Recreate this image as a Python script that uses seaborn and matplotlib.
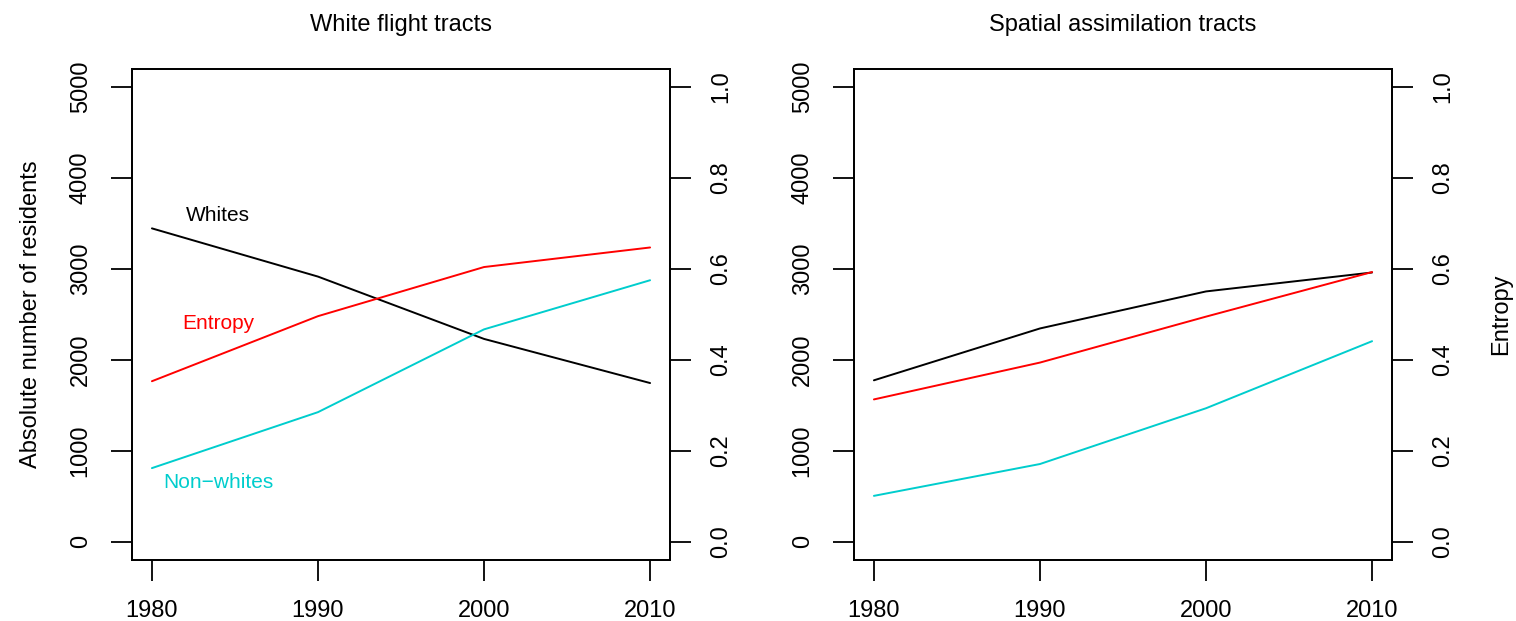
import pandas as pd
import numpy as np
import matplotlib
matplotlib.use("Agg")
import matplotlib.pyplot as plt
import seaborn as sns

# data
years = [1980, 1990, 2000, 2010]
panels = ["White flight tracts", "Spatial assimilation tracts"]

whites_wf = [3445, 2915, 2230, 1745]
nonwhites_wf = [810, 1425, 2335, 2875]
entropy_wf = [0.353, 0.496, 0.604, 0.647]

whites_sa = [1775, 2345, 2752, 2960]
nonwhites_sa = [505, 855, 1468, 2205]
entropy_sa = [0.313, 0.394, 0.495, 0.593]

label_names = ["Whites", "Entropy", "Non\u2212whites"]
label_x = 1984
label_y = [3590, 2400, 650]  # in residents units

black, red, cyan = "black", "#FF0000", "#00CDCD"

sns.set_theme(style="white")
plt.rcParams["font.family"] = ["Liberation Sans", "DejaVu Sans"]
plt.rcParams["text.color"] = "black"
plt.rcParams["axes.labelcolor"] = "black"

fig = plt.figure(figsize=(15.16, 6.21), dpi=100)
W, H = 1516, 621
boxes = [(132, 670), (854, 1392)]
top, bottom = 68.7, 560

data = [
    (whites_wf, nonwhites_wf, entropy_wf),
    (whites_sa, nonwhites_sa, entropy_sa),
]


def style_axis(ax):
    for s in ax.spines.values():
        s.set_linewidth(1.3)
        s.set_color("black")
    ax.tick_params(direction="out", length=15, width=1.3, color="black",
                   labelsize=17, pad=14, labelcolor="black")


for i, (title, (wh, nw, en)) in enumerate(zip(panels, data)):
    x0, x1 = boxes[i]
    ax = fig.add_axes([x0 / W, 1 - bottom / H, (x1 - x0) / W, (bottom - top) / H])
    df = pd.DataFrame({"year": years, "whites": wh, "nonwhites": nw, "entropy": en})
    sns.lineplot(data=df, x="year", y="whites", ax=ax, color=black, lw=1.4)
    sns.lineplot(data=df, x="year", y="nonwhites", ax=ax, color=cyan, lw=1.4)
    ax.set_xlim(1978.8, 2011.2)
    ax.set_ylim(-200, 5200)
    ax.set_xticks(years)
    ax.set_yticks([0, 1000, 2000, 3000, 4000, 5000])
    ax.set_yticklabels(["0", "1000", "2000", "3000", "4000", "5000"],
                       rotation=90, va="center")
    ax.set_xlabel("")
    ax.set_ylabel("")
    style_axis(ax)
    ax.tick_params(axis="x", bottom=True, top=False)
    ax.tick_params(axis="y", left=True, right=False)
    ax.set_title(title, fontsize=17, pad=27, color="black")

    ax2 = ax.twinx()
    sns.lineplot(data=df, x="year", y="entropy", ax=ax2, color=red, lw=1.4)
    ax2.set_ylim(-0.04, 1.04)
    ax2.set_yticks([0.0, 0.2, 0.4, 0.6, 0.8, 1.0])
    ax2.set_yticklabels(["0.0", "0.2", "0.4", "0.6", "0.8", "1.0"],
                        rotation=90, va="center")
    ax2.set_ylabel("")
    style_axis(ax2)
    ax2.tick_params(axis="y", right=True, left=False)
    ax2.tick_params(axis="x", bottom=False, top=False)

    if i == 0:
        ax.set_ylabel("Absolute number of residents", fontsize=17, labelpad=20,
                      color="black")
        for name, ly, c in zip(label_names, label_y, [black, red, cyan]):
            ax.text(label_x, ly, name, color=c, fontsize=15, ha="center", va="center")
    else:
        ax2.set_ylabel("Entropy", fontsize=17, labelpad=26, color="black")

fig.savefig("out.png", dpi=100)
